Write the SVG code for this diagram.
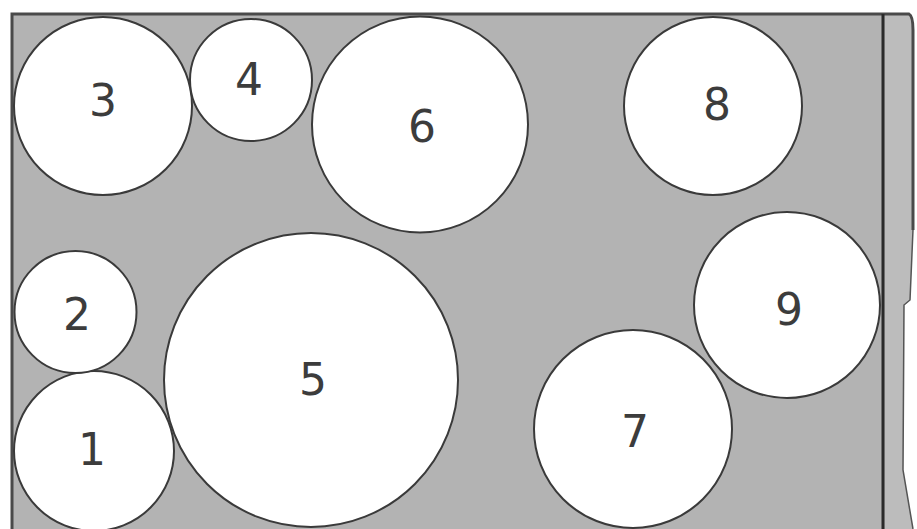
<svg xmlns="http://www.w3.org/2000/svg" width="917" height="529" viewBox="0 0 917 529">
  <style>
    .c { fill: #ffffff; stroke: #3a3a3a; stroke-width: 2; }
    .t { font-family: "DejaVu Sans", "Liberation Sans", sans-serif; font-size: 44px; fill: #3c3c3c; text-anchor: middle; }
    .frame { fill: none; stroke: #4a4a4a; stroke-width: 3; }
  </style>
  <rect x="0" y="0" width="917" height="529" fill="#ffffff"/>
  <g id="background">
    <path d="M12 14 L909 14 Q913 16 913 30 L913 230 L910 300 L904 305 L903 470 L913 529 L12 529 Z" fill="#b3b3b3"/>
    <path d="M885 15 L909 15 Q913 16 913 30 L913 230 L910 300 L904 305 L903 470 L913 529 L885 529 Z" fill="#bcbcbc"/>
    <path d="M12 529 L12 14 L909 14 Q913 16 913 30 L913 230" class="frame"/>
    <path d="M913 230 L910 300 L904 305 L903 470 L913 529" fill="none" stroke="#555" stroke-width="1.5"/>
    <line x1="883" y1="14" x2="883" y2="529" stroke="#2a2a2a" stroke-width="3"/>
  </g>
  <g id="connectors"/>
  <g id="node-1"><circle class="c" cx="94" cy="451" r="80"/><text class="t" x="92" y="465">1</text></g>
  <g id="node-2"><circle class="c" cx="75.5" cy="312" r="61"/><text class="t" x="77" y="330">2</text></g>
  <g id="node-3"><circle class="c" cx="103" cy="106" r="89"/><text class="t" x="103" y="116">3</text></g>
  <g id="node-4"><circle class="c" cx="251" cy="80" r="61"/><text class="t" x="249" y="95">4</text></g>
  <g id="node-5"><circle class="c" cx="311" cy="380" r="147"/><text class="t" x="313" y="395">5</text></g>
  <g id="node-6"><circle class="c" cx="420" cy="124.5" r="108"/><text class="t" x="422" y="142">6</text></g>
  <g id="node-7"><circle class="c" cx="633" cy="429" r="99"/><text class="t" x="635" y="447">7</text></g>
  <g id="node-8"><circle class="c" cx="713" cy="106" r="89"/><text class="t" x="717" y="120">8</text></g>
  <g id="node-9"><circle class="c" cx="787" cy="305" r="93"/><text class="t" x="789" y="325">9</text></g>
</svg>
